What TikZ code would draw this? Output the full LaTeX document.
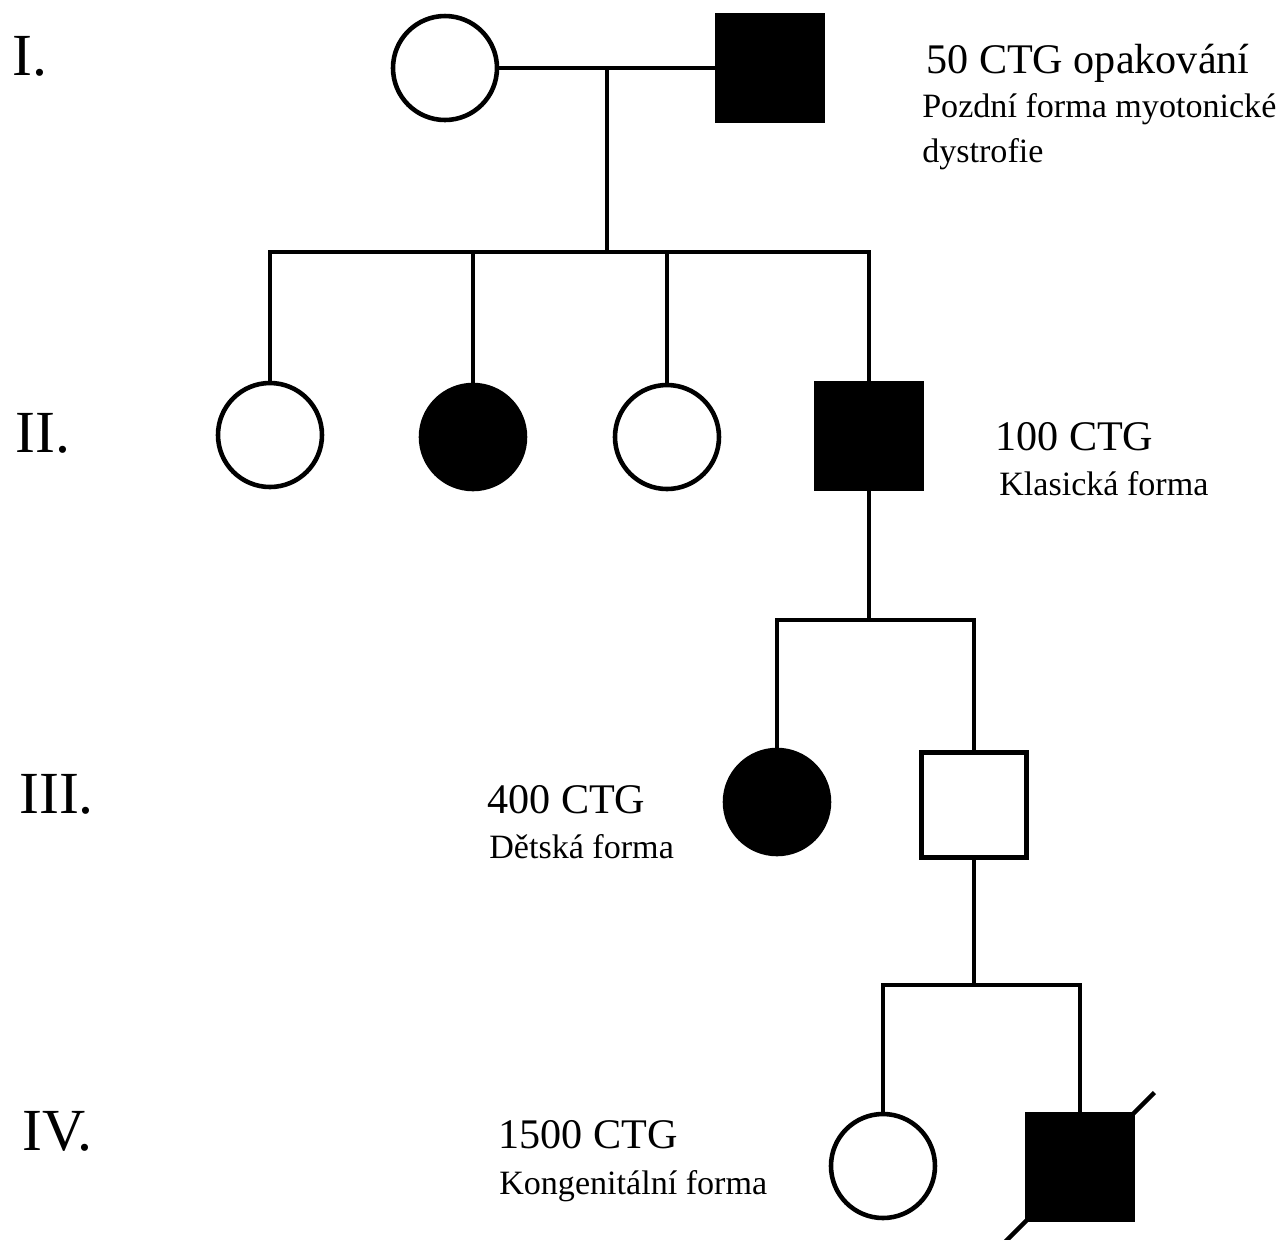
\documentclass[tikz,border=0pt]{standalone}
\usepackage{fontspec}
\setmainfont{Liberation Serif}
\usetikzlibrary{calc}

\begin{document}
\begin{tikzpicture}[
      line width=1.3pt,
      fem/.style={draw,circle,minimum size=1.04cm,inner sep=0pt},
      mal/.style={draw,rectangle,minimum size=1.05cm,inner sep=0pt},
      aff/.style={fill=black},
      gen/.style={anchor=base west,inner sep=0pt,font=\fontsize{17}{19}\selectfont},
      ctg/.style={anchor=base west,inner sep=0pt,font=\fontsize{12}{14}\selectfont},
      note/.style={anchor=base west,inner sep=0pt,font=\fontsize{9.7}{12}\selectfont}
    ]
      \useasboundingbox (0,0) rectangle (12.86,-12.40);

      % generations
      \node[gen] (gI) at (0.10,-0.75) {I.};
      \node[gen] (gII) at (0.13,-4.52) {II.};
      \node[gen] (gIII) at (0.17,-8.13) {III.};
      \node[gen] (gIV) at (0.20,-11.50) {IV.};

      % I
      \node[fem] (I1) at (4.45,-0.68) {};
      \node[mal,aff] (I2) at (7.70,-0.68) {};
      \coordinate (mI) at (6.07,-0.68);
      \coordinate (sII) at (6.07,-2.52);

      % II
      \node[fem] (II1) at (2.70,-4.35) {};
      \node[fem,aff] (II2) at (4.73,-4.37) {};
      \node[fem] (II3) at (6.67,-4.37) {};
      \node[mal,aff] (II4) at (8.69,-4.36) {};
      \coordinate (sIII) at (8.69,-6.20);

      % III
      \node[fem,aff] (III1) at (7.77,-8.02) {};
      \node[mal] (III2) at (9.74,-8.05) {};
      \coordinate (sIV) at (9.74,-9.85);

      % IV
      \node[fem] (IV1) at (8.83,-11.66) {};
      \node[mal,aff] (IV2) at (10.80,-11.67) {};

      \draw (I1) -- (I2);
      \draw (mI) -- (sII);
      \draw (II1) |- (sII) -| (II4);
      \draw (II2) -- (II2 |- sII);
      \draw (II3) -- (II3 |- sII);
      \draw (II4) -- (sIII);
      \draw (III1) |- (sIII) -| (III2);
      \draw (III2) -- (sIV);
      \draw (IV1) |- (sIV) -| (IV2);
      \draw ($(IV2.south west)!-0.19!(IV2.north east)$) -- ($(IV2.south west)!1.18!(IV2.north east)$);

      % labels
      \node[ctg] (tI) at (9.24,-0.73) {50 CTG opakování};
      \node[note] (nIa) at (9.20,-1.17) {Pozdní forma myotonické};
      \node[note] (nIb) at (9.20,-1.62) {dystrofie};
      \node[ctg] (tII) at (9.93,-4.50) {100 CTG};
      \node[note] (nII) at (9.97,-4.95) {Klasická forma};
      \node[ctg] (tIII) at (4.85,-8.13) {400 CTG};
      \node[note] (nIII) at (4.87,-8.58) {Dětská forma};
      \node[ctg] (tIV) at (4.96,-11.48) {1500 CTG};
      \node[note] (nIV) at (4.97,-11.94) {Kongenitální forma};
    \end{tikzpicture}
\end{document}
